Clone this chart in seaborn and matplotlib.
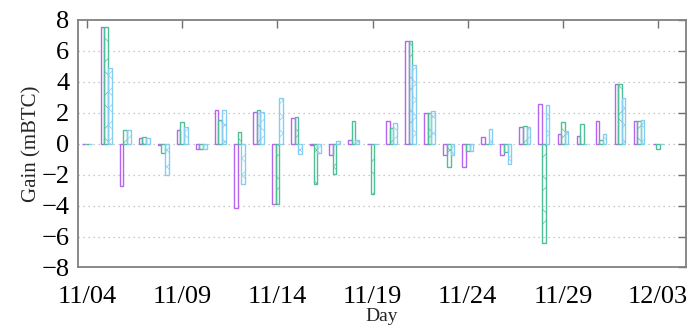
import matplotlib
matplotlib.use("Agg")
import matplotlib.pyplot as plt
import seaborn as sns
import pandas as pd
import numpy as np

days = list(range(31))
tick_positions = [0, 5, 10, 15, 20, 25, 30]
tick_labels = ["11/04", "11/09", "11/14", "11/19", "11/24", "11/29", "12/03"]
series_names = ["A", "B", "C"]
series_a = [0.0, 7.55, -2.75, 0.34, -0.1, 0.88, -0.37, 2.15, -4.17, 2.02, -3.91, 1.63, -0.09, -0.71, 0.22, 0.0,
            1.48, 6.6, 2.0, -0.75, -1.5, 0.41, -0.71, 1.05, 2.54, 0.6, 0.47, 1.44, 3.85, 1.48, 0.0]
series_b = [0.0, 7.5, 0.86, 0.43, -0.62, 1.38, -0.37, 1.53, 0.75, 2.17, -3.91, 1.74, -2.6, -1.98, 1.46, -3.27,
            1.01, 6.6, 2.0, -1.53, -0.45, 0.0, -0.56, 1.16, -6.39, 1.42, 1.29, 0.22, 3.85, 1.48, -0.34]
series_c = [0.0, 4.9, 0.86, 0.34, -2.06, 1.08, -0.37, 2.15, -2.58, 2.02, 2.97, -0.67, -0.58, 0.15, 0.22, 0.0,
            1.35, 5.05, 2.13, -0.75, -0.45, 0.92, -1.35, 1.05, 2.47, 0.84, 0.0, 0.6, 2.92, 1.53, 0.0]

colors = ["#b565ee", "#4fbf98", "#86cdf2"]
hatches = ["", "x", "xx"]

df = pd.DataFrame({
    "day": days * 3,
    "series": [series_names[0]] * 31 + [series_names[1]] * 31 + [series_names[2]] * 31,
    "value": series_a + series_b + series_c,
})

sns.set_theme(style="white")
plt.rcParams["font.family"] = ["Liberation Serif", "DejaVu Serif"]
plt.rcParams["hatch.linewidth"] = 0.5

fig = plt.figure(figsize=(6.99, 3.27), dpi=100)
ax = fig.add_axes([0.1112, 0.182, 0.8695, 0.758])

sns.barplot(data=df, x="day", y="value", hue="series", order=days, hue_order=series_names,
            palette=colors, fill=False, width=0.57, linewidth=1.0, legend=False, ax=ax,
            errorbar=None)

for cont, col, h in zip(ax.containers, colors, hatches):
    for p in cont.patches:
        p.set_hatch(h)
        p.set_edgecolor(col)
        p.set_linewidth(1.0)

ax.set_xlim(-0.49, 31.44)
ax.set_ylim(-8, 8)
ax.set_yticks(np.arange(-8, 9, 2))
ax.set_xticks(tick_positions)
ax.set_xticklabels(tick_labels)
for y in range(-6, 7, 2):
    ax.axhline(y, color="#b8b8b8", linestyle=(0, (1, 3)), linewidth=0.9, zorder=0)

for s in ax.spines.values():
    s.set_color("#808080")
    s.set_linewidth(1.3)
    s.set_visible(True)

ax.tick_params(axis="both", direction="in", length=6, width=1.0, color="#707070",
               top=True, right=True, labelsize=19, pad=6, labelcolor="black")
ax.tick_params(axis="x", pad=13)
ax.set_xlabel("Day", fontsize=14, labelpad=0)
ax.set_ylabel("Gain (mBTC)", fontsize=15, labelpad=0)

fig.savefig("out.png", dpi=100)
